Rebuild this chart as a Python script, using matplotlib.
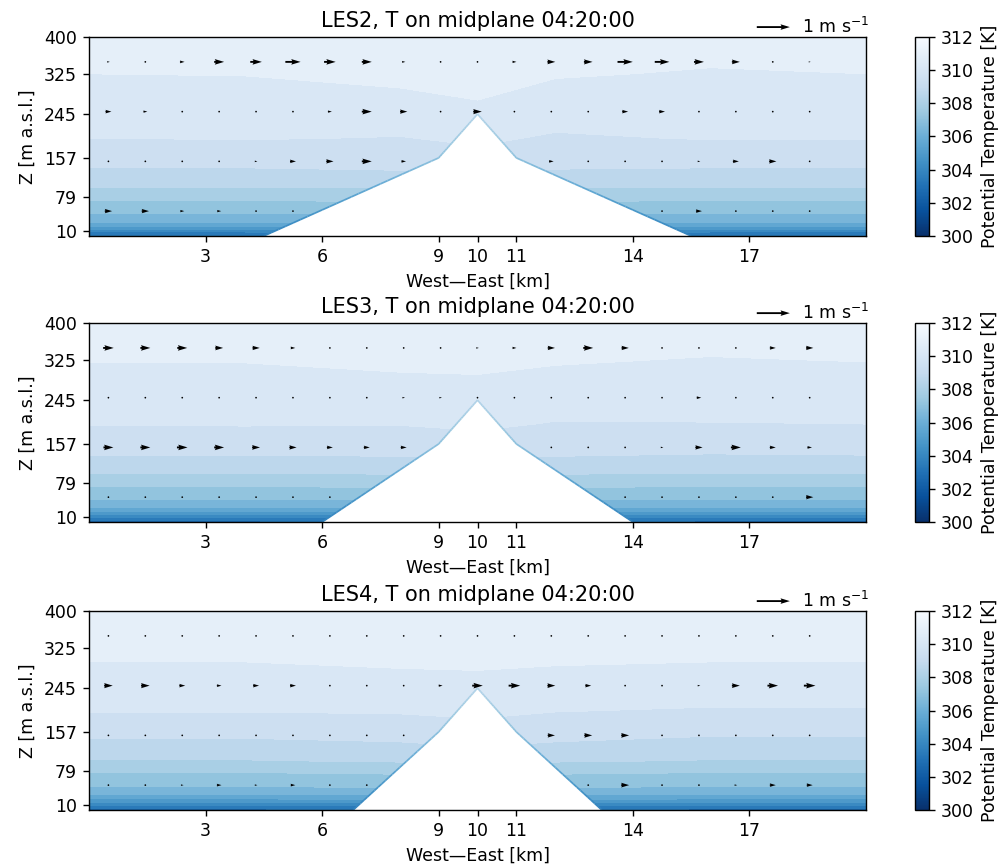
import numpy as np
import matplotlib
matplotlib.use("Agg")
import matplotlib.pyplot as plt
from matplotlib.colors import Normalize
from matplotlib.cm import ScalarMappable
from matplotlib.collections import LineCollection

# --- data -----------------------------------------------------------------
runs = ["LES2", "LES3", "LES4"]
time_label = "04:20:00"

# grid of the potential temperature table (km, m a.s.l.)
theta_x = [0, 4, 8, 10, 12, 16, 20]
theta_z = [0, 8, 14, 20, 28, 46, 72, 98, 137, 197, 260, 326, 400]

# theta[row = height][col = x]  (K)
theta_les2 = [
    [303.4, 303.4, 303.6, 304.0, 303.6, 303.4, 303.4],
    [303.75, 303.75, 304.0, 304.5, 304.0, 303.75, 303.75],
    [304.5, 304.5, 304.7, 305.0, 304.7, 304.5, 304.5],
    [305.25, 305.25, 305.4, 305.5, 305.4, 305.25, 305.25],
    [306.0, 306.0, 306.1, 306.2, 306.1, 306.0, 306.0],
    [306.75, 306.75, 306.9, 307.0, 306.9, 306.75, 306.75],
    [307.5, 307.5, 307.6, 307.8, 307.6, 307.5, 307.5],
    [308.25, 308.25, 308.3, 308.5, 308.3, 308.25, 308.25],
    [309.0, 309.0, 309.1, 309.3, 309.05, 309.0, 309.0],
    [309.75, 309.8, 309.72, 309.9, 309.65, 309.8, 309.8],
    [310.15, 310.2, 310.3, 310.45, 310.2, 310.2, 310.15],
    [310.5, 310.52, 310.65, 310.7, 310.55, 310.45, 310.5],
    [310.9, 310.9, 310.95, 310.95, 310.9, 310.75, 310.9],
]
theta_les3 = [
    [302.8, 302.8, 303.0, 303.5, 303.0, 302.8, 302.8],
    [303.5, 303.5, 303.7, 304.0, 303.7, 303.5, 303.5],
    [304.3, 304.3, 304.5, 304.7, 304.5, 304.3, 304.3],
    [305.1, 305.1, 305.2, 305.4, 305.2, 305.1, 305.1],
    [305.9, 305.9, 306.0, 306.1, 306.0, 305.9, 305.9],
    [306.75, 306.75, 306.8, 306.9, 306.8, 306.75, 306.75],
    [307.5, 307.5, 307.6, 307.7, 307.6, 307.5, 307.5],
    [308.25, 308.25, 308.3, 308.4, 308.3, 308.25, 308.25],
    [309.05, 309.05, 309.1, 309.2, 309.1, 309.0, 309.05],
    [309.78, 309.8, 309.78, 309.9, 309.7, 309.72, 309.75],
    [310.2, 310.2, 310.3, 310.35, 310.25, 310.2, 310.2],
    [310.53, 310.53, 310.62, 310.62, 310.55, 310.47, 310.52],
    [310.9, 310.9, 310.95, 310.95, 310.9, 310.8, 310.9],
]
theta_les4 = [
    [302.8, 302.8, 303.0, 303.5, 303.0, 302.8, 302.8],
    [303.5, 303.5, 303.7, 304.0, 303.7, 303.5, 303.5],
    [304.3, 304.3, 304.5, 304.7, 304.5, 304.3, 304.3],
    [305.0, 305.0, 305.2, 305.4, 305.2, 305.0, 305.0],
    [305.8, 305.8, 305.9, 306.1, 305.9, 305.8, 305.8],
    [306.7, 306.7, 306.8, 306.9, 306.8, 306.7, 306.7],
    [307.4, 307.4, 307.5, 307.7, 307.5, 307.4, 307.4],
    [308.2, 308.2, 308.3, 308.4, 308.3, 308.2, 308.2],
    [308.9, 308.9, 309.0, 309.2, 309.0, 308.85, 308.85],
    [309.75, 309.75, 309.8, 309.9, 309.75, 309.65, 309.65],
    [310.3, 310.3, 310.38, 310.4, 310.35, 310.3, 310.3],
    [310.65, 310.65, 310.7, 310.72, 310.68, 310.65, 310.65],
    [310.95, 310.95, 310.95, 310.95, 310.95, 310.95, 310.95],
]

# terrain profile along the midplane (km, m) and skin temperature along it (K)
terrain_x = {
    "LES2": [0, 4.5, 9, 10, 11, 15.5, 20],
    "LES3": [0, 6.0, 9, 10, 11, 14.0, 20],
    "LES4": [0, 6.8, 9, 10, 11, 13.2, 20],
}
terrain_z = [0, 0, 157, 245, 157, 0, 0]
surface_theta = [303.8, 303.8, 307.0, 308.2, 307.0, 303.8, 303.8]

# wind vectors: sample columns and levels, u in m/s (rows: 50, 150, 250, 350 m)
wind_x = [0.5, 1.45, 2.4, 3.35, 4.3, 5.25, 6.2, 7.15, 8.1, 9.05,
          10.0, 10.95, 11.9, 12.85, 13.8, 14.75, 15.7, 16.65, 17.6, 18.55]
wind_z = [50, 150, 250, 350]
u_les2 = [
    [0.22, 0.22, 0.12, 0.12, 0.05, 0.03, 0, 0, 0, 0, 0, 0, 0, 0, 0, 0.05, 0.18, 0.05, 0.05, 0.05],
    [0.03, 0.05, 0.05, 0.05, 0.08, 0.18, 0.22, 0.30, 0.14, 0, 0, 0, 0.14, 0.03, 0.03, 0.05, 0.08, 0.18, 0.22, 0.05],
    [0.18, 0.12, 0.03, 0.05, 0.05, 0.05, 0.12, 0.30, 0.22, 0.05, 0.26, 0.05, 0.05, 0.05, 0.18, 0.18, 0.05, 0.03, 0.03, 0.03],
    [0.08, 0.03, 0.14, 0.30, 0.35, 0.46, 0.35, 0.30, 0.10, 0.05, 0.05, 0.12, 0.24, 0.26, 0.46, 0.44, 0.30, 0.24, 0.03, 0.06],
]
u_les3 = [
    [0.05, 0.05, 0.05, 0.05, 0.05, 0.05, 0.03, 0, 0, 0, 0, 0, 0, 0, 0.03, 0.05, 0.05, 0.05, 0.05, 0.22],
    [0.30, 0.30, 0.32, 0.30, 0.24, 0.22, 0.18, 0.18, 0.18, 0, 0, 0, 0.03, 0.05, 0.05, 0.08, 0.22, 0.30, 0.18, 0.14],
    [0.03, 0.03, 0.03, 0.03, 0.03, 0.03, 0.05, 0.05, 0.08, 0.08, 0.03, 0.03, 0.03, 0.03, 0.03, 0.03, 0.14, 0.05, 0.05, 0.03],
    [0.32, 0.30, 0.30, 0.24, 0.22, 0.14, 0.05, 0.05, 0.03, 0.03, 0.08, 0.12, 0.22, 0.30, 0.22, 0.05, 0.03, 0.05, 0.18, 0.22],
]
u_les4 = [
    [0.05, 0.03, 0.08, 0.14, 0.08, 0.14, 0.05, 0.03, 0, 0, 0, 0, 0, 0.05, 0.24, 0.05, 0.03, 0.08, 0.18, 0.18],
    [0.03, 0.03, 0.03, 0.03, 0.03, 0.03, 0.03, 0.04, 0.04, 0, 0, 0, 0.22, 0.24, 0.24, 0.05, 0.03, 0.03, 0.03, 0.03],
    [0.26, 0.26, 0.18, 0.14, 0.18, 0.18, 0.05, 0.03, 0.02, 0.12, 0.32, 0.35, 0.24, 0.18, 0.03, 0.02, 0.08, 0.24, 0.32, 0.35],
    [0.04, 0.04, 0.04, 0.04, 0.04, 0.04, 0.03, 0.04, 0.04, 0.02, 0.03, 0.03, 0.04, 0.03, 0.03, 0.03, 0.03, 0.02, 0.03, 0.05],
]

theta_all = {"LES2": theta_les2, "LES3": theta_les3, "LES4": theta_les4}
u_all = {"LES2": u_les2, "LES3": u_les3, "LES4": u_les4}

x_ticks = [3, 6, 9, 10, 11, 14, 17]
z_ticks = [10, 79, 157, 245, 325, 400]
levels = np.linspace(300, 312, 17)
cbar_ticks = [300, 302, 304, 306, 308, 310, 312]

# --- plotting ---------------------------------------------------------------
fig = plt.figure(figsize=(8, 6.92), dpi=125)
bottoms = [0.7272, 0.3965, 0.0636]
norm = Normalize(300, 312)
cmap = plt.get_cmap("Blues_r")

for run, b in zip(runs, bottoms):
    ax = fig.add_axes([0.089, b, 0.777, 0.230])
    cax = fig.add_axes([0.915, b, 0.014, 0.230])

    th = np.array(theta_all[run])
    ax.contourf(theta_x, theta_z, th, levels=levels, cmap=cmap, norm=norm, zorder=1)

    # mountain: white fill, thin cold skin along the slopes
    tx = terrain_x[run]
    ax.fill_between(tx, 0, terrain_z, facecolor="white", edgecolor="none", zorder=2)
    segs, cols = [], []
    for i in range(1, len(tx) - 2):
        xs = np.linspace(tx[i], tx[i + 1], 25)
        zs = np.linspace(terrain_z[i], terrain_z[i + 1], 25)
        ts = np.linspace(surface_theta[i], surface_theta[i + 1], 25)
        for k in range(24):
            segs.append([(xs[k], zs[k]), (xs[k + 1], zs[k + 1])])
            cols.append(cmap(norm(0.5 * (ts[k] + ts[k + 1]))))
    ax.add_collection(LineCollection(segs, colors=cols, linewidths=1.0, zorder=2))

    WX, WZ = np.meshgrid(wind_x, wind_z)
    U = np.array(u_all[run])
    hgt = np.interp(wind_x, tx, terrain_z)
    mask = WZ <= hgt[None, :]
    U = np.ma.masked_array(U, mask)
    V = np.ma.masked_array(np.zeros_like(U), mask)
    q = ax.quiver(WX, WZ, U, V, scale=23.5, scale_units="width", width=0.0024,
                  pivot="mid", color="black", zorder=3)
    ax.quiverkey(q, 0.902, 1.05, 1, r"1 m s$^{-1}$", labelpos="E")

    ax.set_xlim(0, 20)
    ax.set_ylim(0, 400)
    ax.set_xticks(x_ticks)
    ax.set_yticks(z_ticks)
    ax.set_xlabel("West\u2014East [km]")
    ax.set_ylabel("Z [m a.s.l.]")
    ax.set_title(f"{run}, T on midplane {time_label}")

    cb = fig.colorbar(ScalarMappable(norm=norm, cmap=cmap), cax=cax)
    cb.set_ticks(cbar_ticks)
    cb.set_label("Potential Temperature [K]")

fig.savefig("out.png", dpi=125)
